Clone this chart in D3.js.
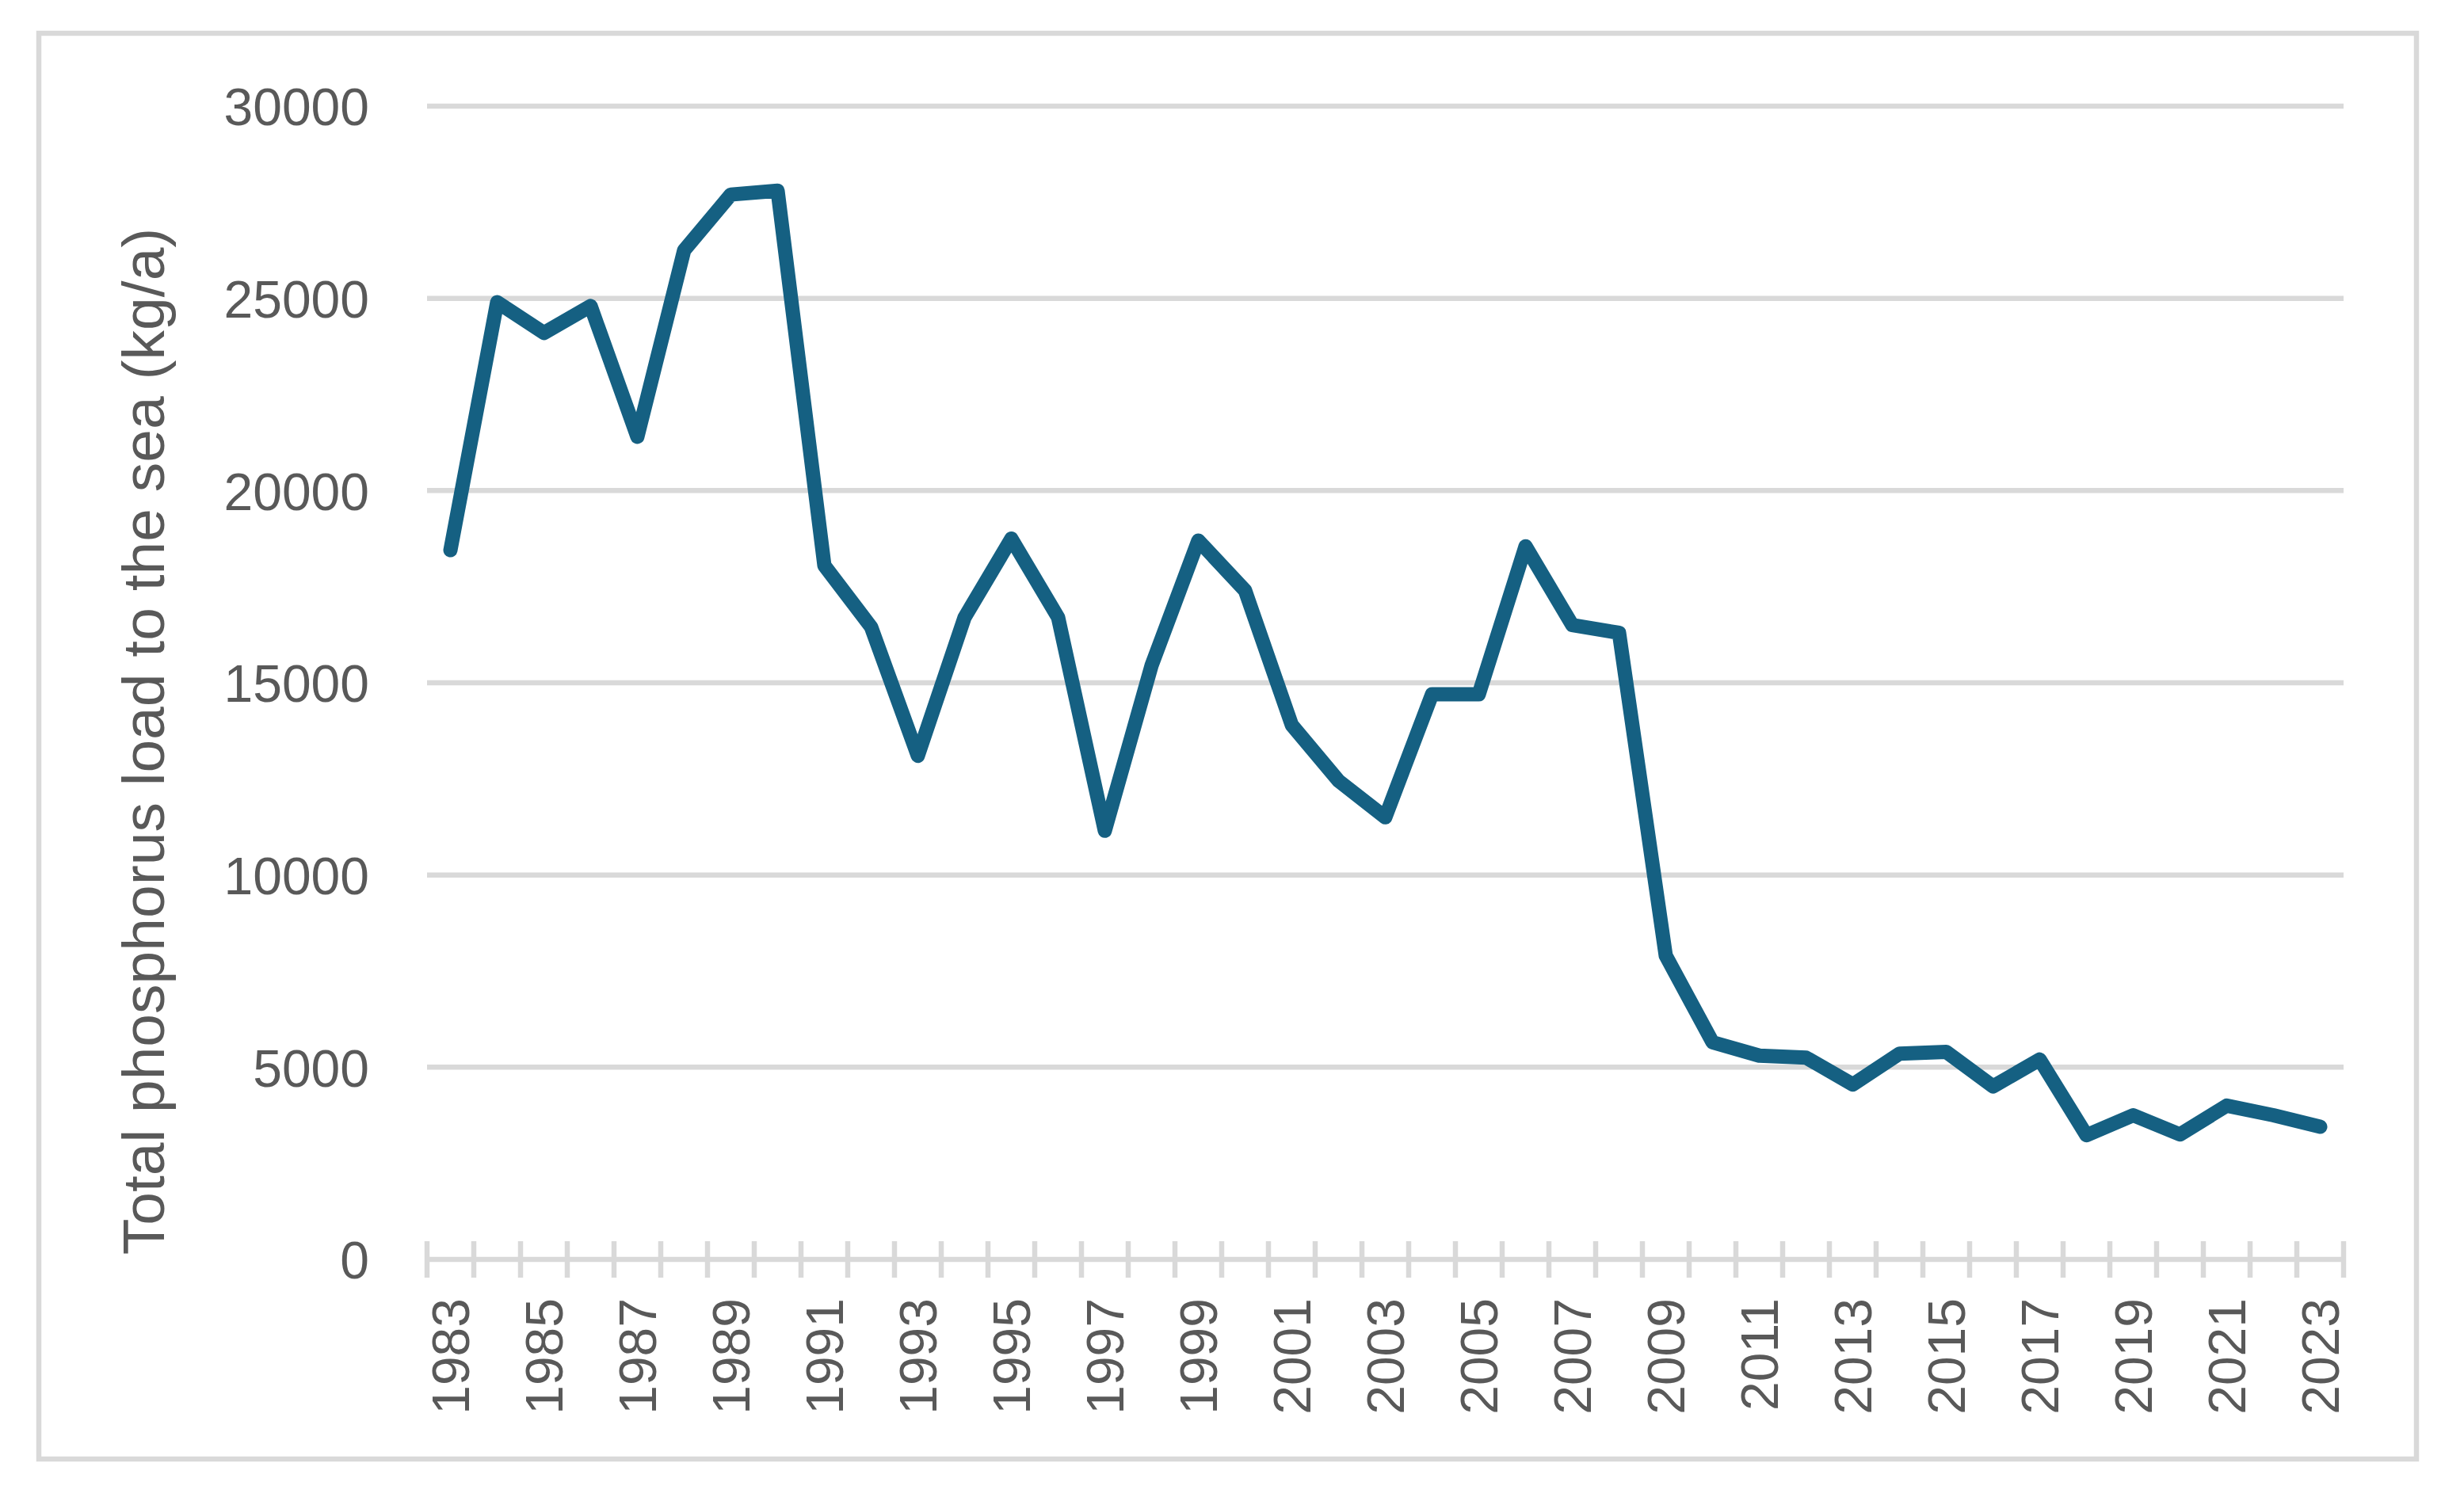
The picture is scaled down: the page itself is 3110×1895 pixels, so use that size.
<!DOCTYPE html>
<html>
<head>
<meta charset="utf-8">
<script src="https://cdn.jsdelivr.net/npm/d3@7"></script>
<style>
  html, body { margin: 0; padding: 0; background: #fff; }
  svg { display: block; }
</style>
</head>
<body>
<svg id="chart"></svg>
<script>
const years = d3.range(1983, 2024);
const phosphorusLoad = [
    18450, 24900, 24100, 24800, 21400, 26250, 27700, 27800, 18050, 16450,
    13100, 16700, 18750, 16700, 11150, 15450, 18700, 17400, 13900, 12450,
    11500, 14700, 14700, 18550, 16500, 16300, 7900, 5650, 5300, 5250,
    4550, 5350, 5400, 4500, 5200, 3230, 3750, 3250, 4000, 3750, 3450
];
const yTicks = [0, 5000, 10000, 15000, 20000, 25000, 30000];
const yTitle = "Total phosphorus load to the sea (kg/a)";

const WIDTH = 3110;
const HEIGHT = 1895;

const PLOT_LEFT = 539;
const PLOT_RIGHT = 2958;
const PLOT_TOP = 134;
const PLOT_BOTTOM = 1590;

const GRID_COLOR = '#d9d9d9';
const TEXT_COLOR = '#595959';
const LINE_COLOR = '#156082';
const FONT = '"Liberation Sans", Arial, sans-serif';

const root = d3.select('#chart')
    .attr('width', WIDTH)
    .attr('height', HEIGHT);

root.append('rect')
    .attr('width', WIDTH)
    .attr('height', HEIGHT)
    .attr('fill', '#fff');

// chart frame
root.append('rect')
    .attr('x', 49)
    .attr('y', 42)
    .attr('width', 3001)
    .attr('height', 1800)
    .attr('fill', 'none')
    .attr('stroke', GRID_COLOR)
    .attr('stroke-width', 6.5);

const x = d3.scaleBand()
    .domain(years)
    .range([PLOT_LEFT, PLOT_RIGHT])
    .padding(0);

const y = d3.scaleLinear()
    .domain([0, 30000])
    .range([PLOT_BOTTOM, PLOT_TOP]);

// horizontal gridlines
root.append('g')
    .selectAll('line')
    .data(yTicks.filter(d => d > 0))
    .join('line')
    .attr('x1', PLOT_LEFT)
    .attr('x2', PLOT_RIGHT)
    .attr('y1', d => y(d))
    .attr('y2', d => y(d))
    .attr('stroke', GRID_COLOR)
    .attr('stroke-width', 6.5);

// y axis labels
const yAxis = root.append('g')
    .attr('transform', `translate(${PLOT_LEFT - 73},0)`)
    .call(d3.axisLeft(y).tickValues(yTicks).tickSize(0).tickPadding(0).tickFormat(d3.format('d')));
yAxis.select('.domain').remove();
yAxis.selectAll('text')
    .attr('x', 0)
    .attr('dy', '0.36em')
    .attr('fill', TEXT_COLOR)
    .style('font-family', FONT)
    .style('font-size', '66px');

// category axis line
root.append('line')
    .attr('x1', PLOT_LEFT)
    .attr('x2', PLOT_RIGHT)
    .attr('y1', y(0))
    .attr('y2', y(0))
    .attr('stroke', GRID_COLOR)
    .attr('stroke-width', 6.5);

// crossing tick marks at category boundaries
const boundaries = years.map(d => x(d)).concat([x(years[years.length - 1]) + x.bandwidth()]);
root.append('g')
    .selectAll('line')
    .data(boundaries)
    .join('line')
    .attr('x1', d => d)
    .attr('x2', d => d)
    .attr('y1', y(0) - 23)
    .attr('y2', y(0) + 23)
    .attr('stroke', GRID_COLOR)
    .attr('stroke-width', 6.5);

// x axis labels, every second year
const xAxis = root.append('g')
    .attr('transform', `translate(0,${PLOT_BOTTOM})`)
    .call(d3.axisBottom(x).tickValues(years.filter((d, i) => i % 2 === 0)).tickSize(0));
xAxis.select('.domain').remove();
xAxis.selectAll('text')
    .attr('transform', 'rotate(-90)')
    .attr('x', -49)
    .attr('y', 0)
    .attr('dy', '0.36em')
    .attr('text-anchor', 'end')
    .attr('fill', TEXT_COLOR)
    .style('font-family', FONT)
    .style('font-size', '66px');

// axis title
root.append('text')
    .text(yTitle)
    .attr('transform', 'translate(207,936) rotate(-90)')
    .attr('text-anchor', 'middle')
    .attr('fill', TEXT_COLOR)
    .style('font-family', FONT)
    .style('font-size', '75px');

// data line
const line = d3.line()
    .x((d, i) => x(years[i]) + x.bandwidth() / 2)
    .y(d => y(d));

root.append('path')
    .datum(phosphorusLoad)
    .attr('d', line)
    .attr('fill', 'none')
    .attr('stroke', LINE_COLOR)
    .attr('stroke-width', 18)
    .attr('stroke-linejoin', 'round')
    .attr('stroke-linecap', 'round');
</script>
</body>
</html>
